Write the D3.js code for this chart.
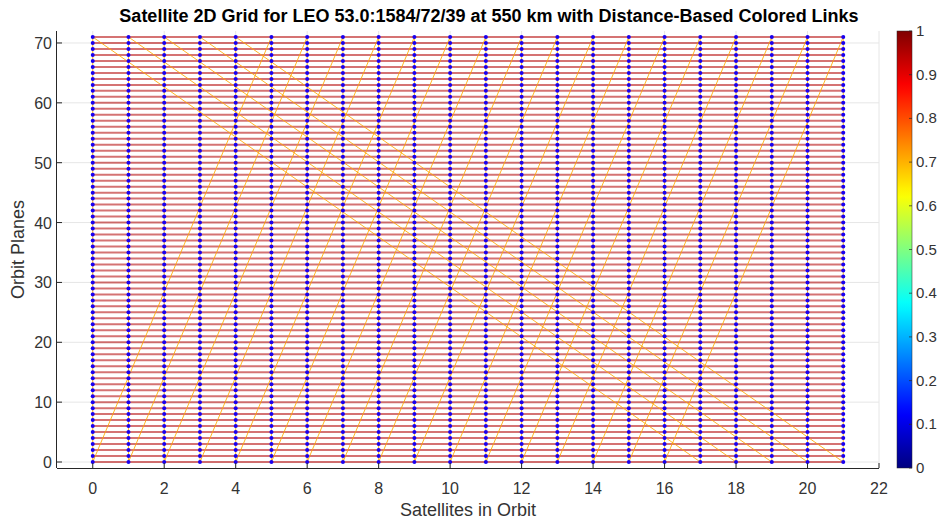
<!DOCTYPE html>
<html>
<head>
<meta charset="utf-8">
<script src="https://cdn.jsdelivr.net/npm/d3@7"></script>
<style>
  html, body { margin: 0; padding: 0; background: #fff; }
  svg { display: block; }
  text { font-family: "Liberation Sans", Arial, Helvetica, sans-serif; }
</style>
</head>
<body>
<svg id="chart" width="942" height="520"></svg>
<script>
// ---------------- data ----------------
const titleText = "Satellite 2D Grid for LEO 53.0:1584/72/39 at 550 km with Distance-Based Colored Links";
const xLabel = "Satellites in Orbit";
const yLabel = "Orbit Planes";
// satellites in each orbit (x) and orbit planes (y)
const satellites = [0,1,2,3,4,5,6,7,8,9,10,11,12,13,14,15,16,17,18,19,20,21];
const planes = [0,1,2,3,4,5,6,7,8,9,10,11,12,13,14,15,16,17,18,19,20,21,22,23,24,25,26,27,28,29,30,31,32,33,34,35,
  36,37,38,39,40,41,42,43,44,45,46,47,48,49,50,51,52,53,54,55,56,57,58,59,60,61,62,63,64,65,66,67,68,69,70,71];
// normalised link distance values (colour-mapped with jet)
const intraPlaneLinkValue = 0.95;   // links between neighbours in the same orbit
const interPlaneLinkValue = 0.71;   // links between adjacent planes
const seamLinkValue = 0.71;         // links between last and first plane
const seamPhaseShift = 5;           // sat j in plane 0 links to sat j+5 in plane 71
const xTicks = [0,2,4,6,8,10,12,14,16,18,20,22];
const yTicks = [0,10,20,30,40,50,60,70];
const cbTicks = [0,0.1,0.2,0.3,0.4,0.5,0.6,0.7,0.8,0.9,1];

// ---------------- helpers ----------------
function jet(v) {
  const f = t => Math.max(0, Math.min(1, t));
  const r = f(1.5 - Math.abs(4 * v - 3));
  const g = f(1.5 - Math.abs(4 * v - 2));
  const b = f(1.5 - Math.abs(4 * v - 1));
  return d3.rgb(r * 255, g * 255, b * 255).formatHex();
}

const svg = d3.select("#chart");
const L = 57, R = 879, T = 31, B = 468;
const x = d3.scaleLinear().domain([-1, 22]).range([L, R]);
const y = d3.scaleLinear().domain([-1, 72]).range([B, T]);

// grid lines
const grid = svg.append("g");
grid.selectAll("line.gx").data(xTicks).join("line")
  .attr("x1", d => x(d)).attr("x2", d => x(d)).attr("y1", T).attr("y2", B)
  .attr("stroke", "#e6e6e6").attr("stroke-width", 1);
grid.selectAll("line.gy").data(yTicks).join("line")
  .attr("x1", L).attr("x2", R).attr("y1", d => y(d)).attr("y2", d => y(d))
  .attr("stroke", "#e6e6e6").attr("stroke-width", 1);

// links
const minS = d3.min(satellites), maxS = d3.max(satellites);
const minP = d3.min(planes), maxP = d3.max(planes);
const nS = satellites.length;

const links = svg.append("g");
// intra-plane (horizontal)
links.selectAll("line.h").data(planes).join("line")
  .attr("x1", x(minS)).attr("x2", x(maxS))
  .attr("y1", d => y(d)).attr("y2", d => y(d))
  .attr("stroke", jet(intraPlaneLinkValue)).attr("stroke-opacity", 0.55)
  .attr("stroke-width", 2);
// inter-plane (vertical)
links.selectAll("line.v").data(satellites).join("line")
  .attr("x1", d => x(d)).attr("x2", d => x(d))
  .attr("y1", y(minP)).attr("y2", y(maxP))
  .attr("stroke", jet(interPlaneLinkValue)).attr("stroke-opacity", 0.85)
  .attr("stroke-width", 1);
// seam links plane 0 -> plane 71 with phase shift
const seam = satellites.map(s => ({ a: s, b: satellites[(s + seamPhaseShift) % nS] }));
links.selectAll("line.s").data(seam).join("line")
  .attr("x1", d => x(d.a)).attr("y1", y(minP))
  .attr("x2", d => x(d.b)).attr("y2", y(maxP))
  .attr("stroke", jet(seamLinkValue)).attr("stroke-opacity", 0.85)
  .attr("stroke-width", 1);

// satellites
const pts = [];
planes.forEach(p => satellites.forEach(s => pts.push({ s, p })));
svg.append("g").selectAll("circle").data(pts).join("circle")
  .attr("cx", d => x(d.s)).attr("cy", d => y(d.p)).attr("r", 2)
  .attr("fill", "#1a00f0");

// axes lines
const axisColor = "#262626";
svg.append("line").attr("x1", L).attr("x2", R).attr("y1", B + 0.5).attr("y2", B + 0.5)
  .attr("stroke", axisColor).attr("stroke-width", 1);
svg.append("line").attr("x1", L - 0.5).attr("x2", L - 0.5).attr("y1", T).attr("y2", B)
  .attr("stroke", axisColor).attr("stroke-width", 1);
// ticks (inward)
svg.append("g").selectAll("line").data(xTicks).join("line")
  .attr("x1", d => x(d)).attr("x2", d => x(d)).attr("y1", B).attr("y2", B - 5)
  .attr("stroke", axisColor);
svg.append("g").selectAll("line").data(yTicks).join("line")
  .attr("x1", L).attr("x2", L + 5).attr("y1", d => y(d)).attr("y2", d => y(d))
  .attr("stroke", axisColor);
// tick labels
svg.append("g").selectAll("text").data(xTicks).join("text")
  .attr("x", d => x(d)).attr("y", 494).attr("text-anchor", "middle")
  .attr("font-size", 16).attr("fill", "#333").text(d => d);
svg.append("g").selectAll("text").data(yTicks).join("text")
  .attr("x", L - 5).attr("y", d => y(d) + 6).attr("text-anchor", "end")
  .attr("font-size", 16).attr("fill", "#333").text(d => d);

// axis labels
svg.append("text").attr("x", (L + R) / 2).attr("y", 516).attr("text-anchor", "middle")
  .attr("font-size", 18).attr("fill", "#333").text(xLabel);
svg.append("text").attr("transform", `translate(24,${(T + B) / 2}) rotate(-90)`)
  .attr("text-anchor", "middle").attr("font-size", 18).attr("fill", "#333").text(yLabel);

// title
svg.append("text").attr("x", 489).attr("y", 22).attr("text-anchor", "middle")
  .attr("font-size", 18).attr("font-weight", "bold").attr("fill", "#000").text(titleText);

// colorbar
const cbL = 897, cbW = 15;
const cy = d3.scaleLinear().domain([0, 1]).range([B, T]);
const defs = svg.append("defs");
const grad = defs.append("linearGradient").attr("id", "jetgrad")
  .attr("x1", 0).attr("y1", 1).attr("x2", 0).attr("y2", 0);
d3.range(0, 1.0001, 0.02).forEach(v => {
  grad.append("stop").attr("offset", v).attr("stop-color", jet(v));
});
svg.append("rect").attr("x", cbL).attr("y", T).attr("width", cbW).attr("height", B - T)
  .attr("fill", "url(#jetgrad)").attr("stroke", "#262626").attr("stroke-width", 0.5);
svg.append("g").selectAll("line").data(cbTicks).join("line")
  .attr("x1", cbL + cbW - 3).attr("x2", cbL + cbW).attr("y1", d => cy(d)).attr("y2", d => cy(d))
  .attr("stroke", "#262626").attr("stroke-width", 0.7);
svg.append("g").selectAll("text").data(cbTicks).join("text")
  .attr("x", cbL + cbW + 4).attr("y", d => cy(d) + 5).attr("font-size", 15)
  .attr("fill", "#333").text(d => d);
</script>
</body>
</html>
